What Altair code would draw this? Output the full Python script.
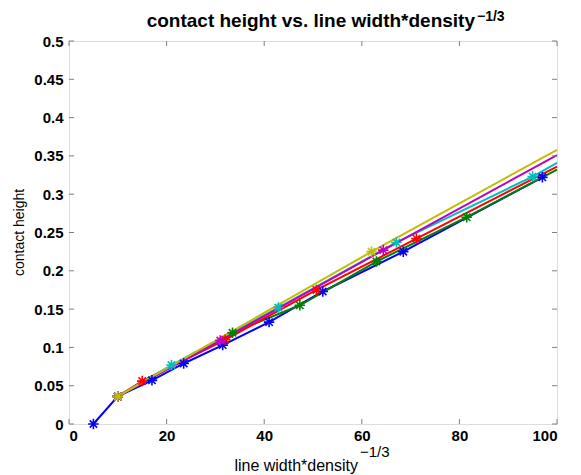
import altair as alt
import pandas as pd

# ---- data ----
series_names = ["blue", "green", "red", "cyan", "magenta", "yellow"]
series_colors = ["#0000ff", "#008000", "#ff0000", "#00bfbf", "#bf00bf", "#bfbf00"]

blue_x = [5, 10, 17, 23.5, 31.5, 41, 52, 68.5, 97]
blue_y = [0.0, 0.036, 0.057, 0.079, 0.103, 0.133, 0.173, 0.225, 0.322]
blue_m = [1, 1, 1, 1, 1, 1, 1, 1, 1]

green_x = [10, 33.5, 47.3, 63, 81.5, 100]
green_y = [0.036, 0.119, 0.155, 0.212, 0.27, 0.332]
green_m = [1, 1, 1, 1, 1, 0]

red_x = [10, 15, 32, 50.7, 71.2, 100]
red_y = [0.036, 0.056, 0.11, 0.175, 0.242, 0.336]
red_m = [1, 1, 1, 1, 1, 0]

cyan_x = [10, 21, 42.9, 67.1, 95, 100]
cyan_y = [0.036, 0.077, 0.152, 0.237, 0.323, 0.341]
cyan_m = [1, 1, 1, 1, 1, 0]

magenta_x = [10, 31, 64.4, 100]
magenta_y = [0.036, 0.109, 0.227, 0.351]
magenta_m = [1, 1, 1, 0]

yellow_x = [10, 62, 100]
yellow_y = [0.036, 0.225, 0.358]
yellow_m = [1, 1, 0]

x_ticks = [0, 20, 40, 60, 80, 100]
y_ticks = [0, 0.05, 0.1, 0.15, 0.2, 0.25, 0.3, 0.35, 0.4, 0.45, 0.5]

title_main = "contact height vs. line width*density"
title_sup = "\u22121/3"
xlabel_main = "line width*density"
xlabel_sup = "\u22121/3"
ylabel = "contact height"

# ---- build table ----
rows = []
for name, xs, ys, ms in [
    ("blue", blue_x, blue_y, blue_m),
    ("green", green_x, green_y, green_m),
    ("red", red_x, red_y, red_m),
    ("cyan", cyan_x, cyan_y, cyan_m),
    ("magenta", magenta_x, magenta_y, magenta_m),
    ("yellow", yellow_x, yellow_y, yellow_m),
]:
    for x, y, m in zip(xs, ys, ms):
        rows.append({"series": name, "x": x, "y": y, "marker": m})
df = pd.DataFrame(rows)

W, H = 488, 383
FONT = "Liberation Sans"
GRAY = "#808080"

xscale = alt.Scale(domain=[0, 100], nice=False, zero=False)
yscale = alt.Scale(domain=[0, 0.5], nice=False, zero=False)
cscale = alt.Scale(domain=series_names, range=series_colors)

xaxis = alt.Axis(values=x_ticks, title=None, grid=False, ticks=False,
                 domain=False, labelFont=FONT, labelFontSize=15,
                 labelFontWeight="bold", labelColor="#000",
                 labelPadding=4, format="d", labelOverlap=False)
yaxis = alt.Axis(values=y_ticks, title=ylabel, grid=False, ticks=False,
                 domain=False, labelFont=FONT, labelFontSize=15,
                 labelFontWeight="bold", labelColor="#000",
                 labelPadding=6, format="~g", labelOverlap=False,
                 labelBound=False, labelFlush=False,
                 titleFont=FONT, titleFontSize=14, titleFontWeight="normal",
                 titleColor="#000", titleX=-43, titleY=191)

star = "M-1,0L1,0M0,-1L0,1M-0.7,-0.7L0.7,0.7M-0.7,0.7L0.7,-0.7"

base = alt.Chart(df)

lines = base.mark_line(strokeWidth=2).encode(
    x=alt.X("x:Q", scale=xscale, axis=xaxis),
    y=alt.Y("y:Q", scale=yscale, axis=yaxis),
    color=alt.Color("series:N", scale=cscale, legend=None),
    order=alt.Order("x:Q"),
)

points = base.transform_filter("datum.marker == 1").mark_point(
    shape=star, filled=False, strokeWidth=1.6, size=110, opacity=1
).encode(
    x=alt.X("x:Q", scale=xscale, axis=xaxis),
    y=alt.Y("y:Q", scale=yscale, axis=yaxis),
    color=alt.Color("series:N", scale=cscale, legend=None),
)

xt = pd.DataFrame({"v": x_ticks})
yt = pd.DataFrame({"v": y_ticks})
tick_style = dict(color=GRAY, strokeWidth=1)
xb = alt.Chart(xt).mark_rule(**tick_style).encode(
    x=alt.X("v:Q", scale=xscale, axis=xaxis), y=alt.value(H), y2=alt.value(H - 5))
xtop = alt.Chart(xt).mark_rule(**tick_style).encode(
    x=alt.X("v:Q", scale=xscale, axis=xaxis), y=alt.value(0), y2=alt.value(5))
yl = alt.Chart(yt).mark_rule(**tick_style).encode(
    y=alt.Y("v:Q", scale=yscale, axis=yaxis), x=alt.value(0), x2=alt.value(5))
yr = alt.Chart(yt).mark_rule(**tick_style).encode(
    y=alt.Y("v:Q", scale=yscale, axis=yaxis), x=alt.value(W), x2=alt.value(W - 5))

def txt(s, x, y, size, weight, align):
    return alt.Chart(pd.DataFrame({"t": [s]})).mark_text(
        font=FONT, fontSize=size, fontWeight=weight, align=align,
        baseline="alphabetic", color="#000"
    ).encode(text="t:N", x=alt.value(x), y=alt.value(y))

t1 = txt(title_main, 406, -14, 19, "bold", "right")
t2 = txt(title_sup, 408, -20, 14, "bold", "left")
x1 = txt(xlabel_main, 289, 430, 16, "normal", "right")
x2 = txt(xlabel_sup, 291, 416, 15, "normal", "left")

chart = alt.layer(lines, points, xb, xtop, yl, yr, t1, t2, x1, x2).properties(
    width=W, height=H,
    autosize=alt.AutoSizeParams(type="none"),
    padding={"left": 61, "top": 33, "right": 12, "bottom": 50},
).configure_view(stroke=GRAY, strokeWidth=1).configure(background="white"
).configure_axis(labelOverlap=False)

chart.save("out.html", embed_options={"renderer": "svg", "actions": False})
